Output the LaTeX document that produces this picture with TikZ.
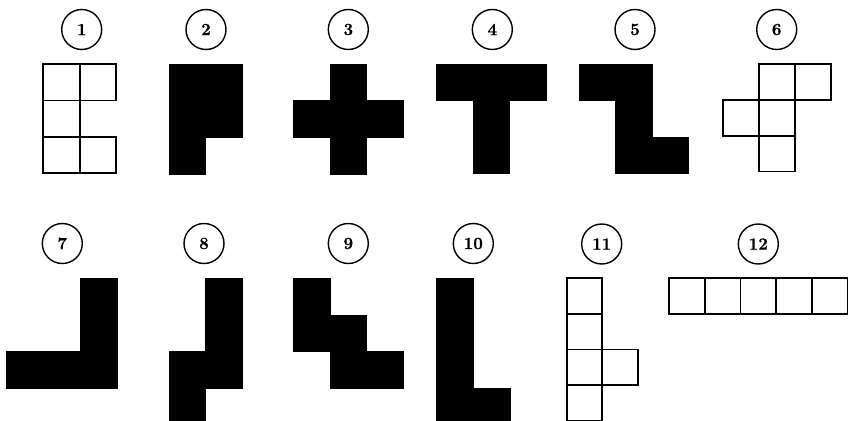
\documentclass[tikz,border=0pt]{standalone}
\usepackage{fontspec}
\newfontfamily\numfont[FakeBold=0.8]{Latin Modern Roman}
\begin{document}
\begin{tikzpicture}[x=1pt,y=-1pt,
  num/.style={circle,draw=black,line width=1.4pt,minimum size=40pt,inner sep=0pt,
    font=\numfont\fontsize{17}{17}\selectfont\bfseries},
  solid piece/.style={fill=black,draw=black,line width=0.6pt},
  open piece/.style={draw=black,line width=1.8pt,line join=miter}]
\clip (0,0) rectangle (848,420);
\useasboundingbox (0,0) rectangle (848,420);
\newcommand\pshape[5]{%
  \foreach \i/\j in {#5} \path[#1] ({#2+\i*#4},{#3+\j*#4}) rectangle ++(#4,#4);}
% circled numbers
\node[num] (c1)  at (81.7,29.5)  {1};
\node[num] (c2)  at (206,29.5)   {2};
\node[num] (c3)  at (348.3,29.5) {3};
\node[num] (c4)  at (492.3,29.5) {4};
\node[num] (c5)  at (635,29.5)   {5};
\node[num] (c6)  at (776.7,29.5) {6};
\node[num] (c7)  at (62.3,243.5) {7};
\node[num] (c8)  at (204,243.5)  {8};
\node[num] (c9)  at (348.3,243.5){9};
\node[num] (c10) at (473.3,243.5){10};
\node[num] (c11) at (601.7,244)  {11};
\node[num] (c12) at (758.3,244)  {12};
% row 1
\pshape{open piece}{43.3}{64}{36.4}{0/0,1/0,0/1,0/2,1/2}
\pshape{solid piece}{169}{64}{36.6}{0/0,1/0,0/1,1/1,0/2}
\pshape{solid piece}{293.3}{64}{36.6}{1/0,0/1,1/1,2/1,1/2}
\pshape{solid piece}{436.7}{64}{36.5}{0/0,1/0,2/0,1/1,1/2}
\pshape{solid piece}{579.3}{64}{36.4}{0/0,1/0,1/1,1/2,2/2}
\pshape{open piece}{723.3}{64}{35.8}{1/0,2/0,0/1,1/1,1/2}
% row 2
\pshape{solid piece}{6.7}{278.3}{36.7}{2/0,2/1,0/2,1/2,2/2}
\pshape{solid piece}{169}{278.3}{36.6}{1/0,1/1,0/2,1/2,0/3}
\pshape{solid piece}{293.3}{278.3}{36.6}{0/0,0/1,1/1,1/2,2/2}
\pshape{solid piece}{436.7}{278.3}{36.8}{0/0,0/1,0/2,0/3,1/3}
\pshape{open piece}{566.7}{278.3}{35.6}{0/0,0/1,0/2,1/2,0/3}
\pshape{open piece}{669}{278.3}{35.7}{0/0,1/0,2/0,3/0,4/0}
\end{tikzpicture}
\end{document}
